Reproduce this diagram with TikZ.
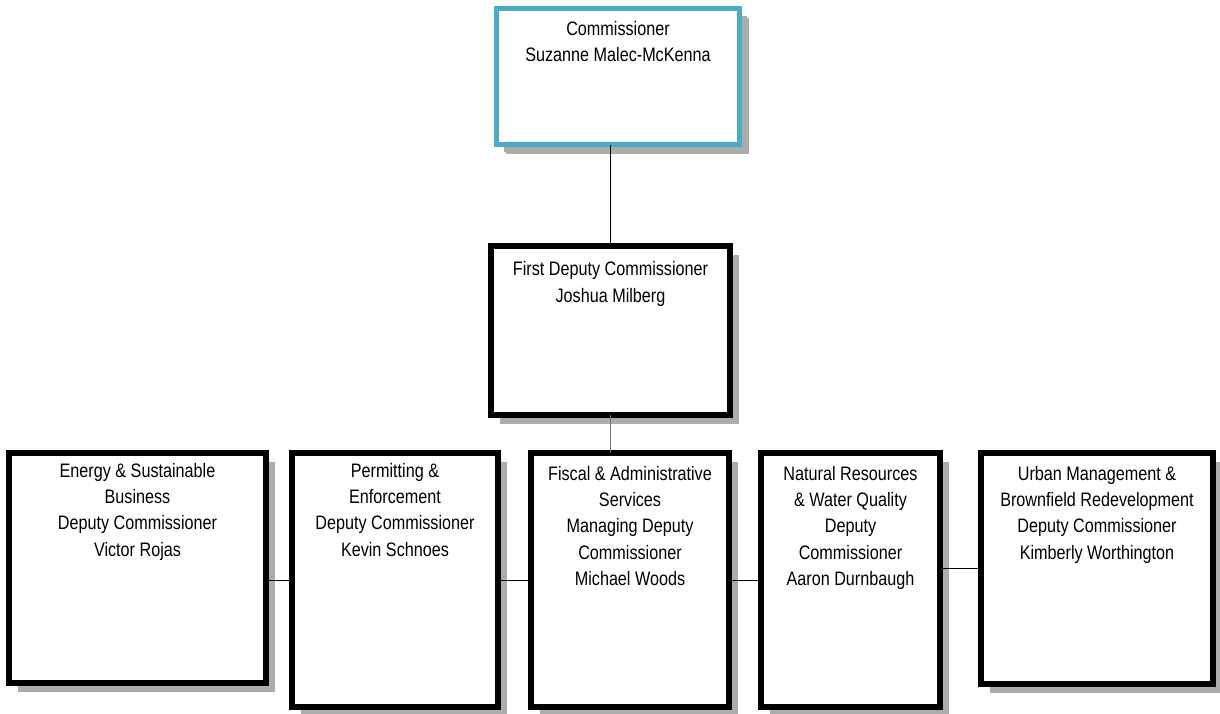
\documentclass[tikz,border=0pt]{standalone}
\usepackage{fontspec}
\setmainfont{Liberation Sans}[FakeStretch=0.83]
\usetikzlibrary{shadows}
\definecolor{commblue}{RGB}{75,172,198}
\definecolor{shadowgray}{RGB}{172,172,172}
\tikzset{
  orgbox/.style={draw=black, fill=white, line width=6pt, outer sep=0pt, inner sep=0pt,
    anchor=north west, rectangle,
    drop shadow={shadow xshift=9pt, shadow yshift=-9pt, fill=shadowgray, opacity=1}},
  topbox/.style={orgbox, draw=commblue, line width=5pt,
    drop shadow={shadow xshift=7.5pt, shadow yshift=-7.5pt, fill=shadowgray, opacity=1}},
  txt/.style={anchor=north, inner sep=0pt, align=center,
    font=\fontsize{19.5}{26.3}\selectfont},
  conn/.style={draw=black, line width=1pt},
  connthick/.style={draw=black, line width=1.6pt},
  conngray/.style={draw=black!55, line width=1.4pt}
}
\newcommand{\fstrut}{\rule{0pt}{15pt}}
\begin{document}
\begin{tikzpicture}[x=1pt,y=-1pt]
\useasboundingbox (0,0) rectangle (1220,713);
% boxes
\node[topbox, minimum width=243pt, minimum height=136pt] (c) at (496.5,8.5) {};
\node[orgbox, minimum width=239pt, minimum height=169pt] (f) at (491,246) {};
\node[orgbox, minimum width=257pt, minimum height=230pt] (b1) at (9,453) {};
\node[orgbox, minimum width=206pt, minimum height=254pt] (b2) at (292,453) {};
\node[orgbox, minimum width=198pt, minimum height=254pt] (b3) at (531,453) {};
\node[orgbox, minimum width=179pt, minimum height=254pt] (b4) at (761,453) {};
\node[orgbox, minimum width=232pt, minimum height=231pt] (b5) at (981,453) {};
% texts
\node[txt, yshift=-11.5pt] (tc) at (c.north) {\fstrut Commissioner\\Suzanne Malec-McKenna};
\node[txt, yshift=-14.7pt] (tf) at (f.north) {\fstrut First Deputy Commissioner\\Joshua Milberg};
\node[txt, yshift=-9pt] (t1) at (b1.north) {\fstrut Energy \& Sustainable\\Business\\Deputy Commissioner\\Victor Rojas};
\node[txt, yshift=-9pt] (t2) at (b2.north) {\fstrut Permitting \&\\Enforcement\\Deputy Commissioner\\Kevin Schnoes};
\node[txt, yshift=-12pt] (t3) at (b3.north) {\fstrut Fiscal \& Administrative\\Services\\Managing Deputy\\Commissioner\\Michael Woods};
\node[txt, yshift=-12pt] (t4) at (b4.north) {\fstrut Natural Resources\\\& Water Quality\\Deputy\\Commissioner\\Aaron Durnbaugh};
\node[txt, yshift=-12pt] (t5) at (b5.north) {\fstrut Urban Management \&\\Brownfield Redevelopment\\Deputy Commissioner\\Kimberly Worthington};
% connectors
\draw[connthick] (f.north) -- (f.north |- c.south);
\draw[conngray] (f.south) -- (f.south |- b3.north);
\draw[conn] (b2.west) -- (b2.west -| b1.east);
\draw[conn] (b2.east) -- (b2.east -| b3.west);
\draw[conn] (b3.east) -- (b3.east -| b4.west);
\draw[conn] (b5.west) -- (b5.west -| b4.east);
\end{tikzpicture}
\end{document}
